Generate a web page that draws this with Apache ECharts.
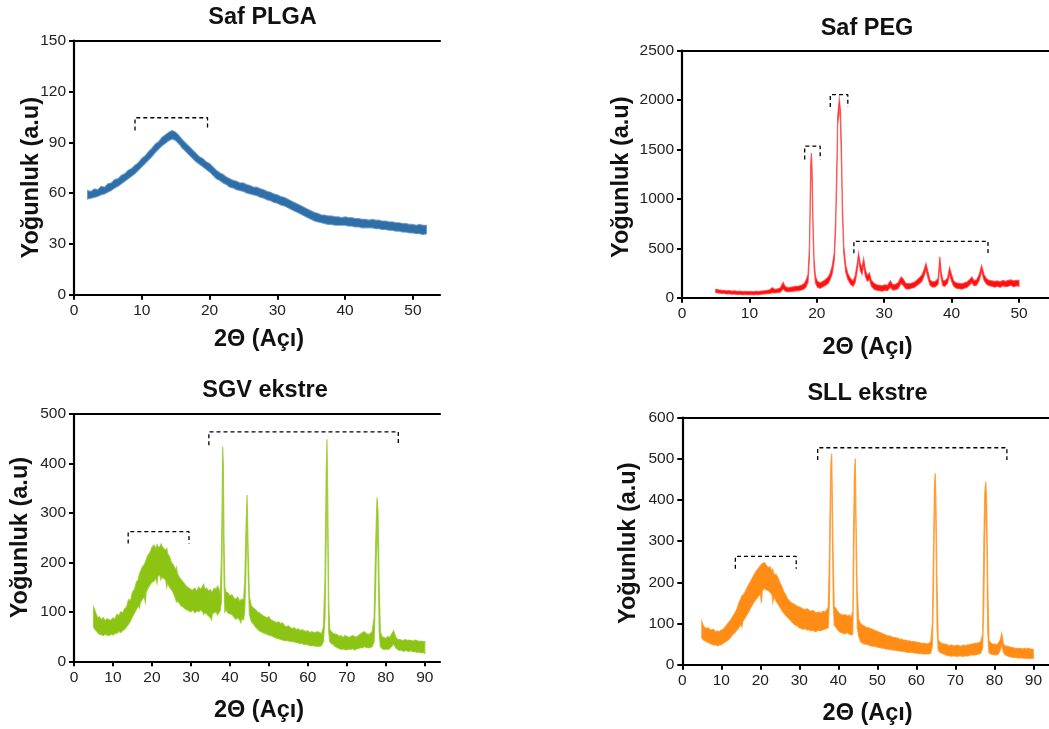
<!DOCTYPE html>
<html>
<head>
<meta charset="utf-8">
<script src="https://cdn.jsdelivr.net/npm/echarts@6/dist/echarts.min.js"></script>
<style>
  html, body { margin: 0; padding: 0; background: #fff; }
  #chart { width: 1049px; height: 729px; }
</style>
</head>
<body>
<div id="chart"></div>
<script>
// XRD patterns: each row is [2θ, lower edge, upper edge] of the noisy trace.
const plgaRows = [
  [2.0,56.5,61.5],[2.5,57,61],[3.0,57.5,62.5],[3.5,58,62],[4.0,59,64],[4.5,59.5,63.5],[5.0,60.5,65.5],[5.5,61.5,66],
  [6.0,63,68],[6.5,64,68.5],[7.0,65.5,70.5],[7.5,67,71.5],[8.0,68.5,73.5],[8.5,70,74.5],[9.0,71.5,76.5],[9.5,73.5,78],
  [10.0,75.5,80.5],[10.5,77.5,82],[11.0,79.5,84.5],[11.5,81.5,86.5],[12.0,84,89],[12.5,86,90.5],[13.0,88,93],[13.5,89.5,94.5],
  [14.0,91,96],[14.5,92,97],[15.0,91,96],[15.5,89,94],[16.0,86.5,91.5],[16.5,84.5,89.5],[17.0,82.5,87.5],[17.5,80.5,85.5],
  [18.0,78.5,83.5],[18.5,77,81.5],[19.0,75.5,80.5],[19.5,74,78.5],[20.0,72.5,77.5],[20.5,70.5,75.5],[21.0,68.5,73.5],[21.5,67.5,72],
  [22.0,66,71],[22.5,65,69.5],[23.0,63.5,68.5],[23.5,63,67.5],[24.0,62,67],[24.5,61.5,66],[25.0,61,66],[25.5,60,65],
  [26.0,59.5,64.5],[26.5,59,63.5],[27.0,58.5,63.5],[27.5,57.5,62.5],[28.0,57,62],[28.5,56,61],[29.0,55.5,60.5],[29.5,54.5,59.5],
  [30.0,54,59],[30.5,53,58],[31.0,52.5,57.5],[31.5,51.5,56.5],[32.0,50.5,55.5],[32.5,49.5,54.5],[33.0,48.5,53.5],[33.5,47.5,52.5],
  [34.0,46.5,51.5],[34.5,45.5,50.5],[35.0,44.5,49.5],[35.5,43.5,48.5],[36.0,43,48],[36.5,42.5,47],[37.0,42,47],[37.5,41.5,46.5],
  [38.0,41.5,46.5],[38.5,41,46],[39.0,41,46],[39.5,41,45.5],[40.0,41,46],[40.5,40.5,45.5],[41.0,40.5,45.5],[41.5,40,45],
  [42.0,40,45],[42.5,39.5,44.5],[43.0,39.5,44.5],[43.5,39.5,44],[44.0,39.5,44.5],[44.5,39,44],[45.0,39,44],[45.5,38.5,43.5],
  [46.0,38.5,43.5],[46.5,38,43],[47.0,38,43],[47.5,37.5,42.5],[48.0,37.5,42.5],[48.5,37,42],[49.0,37,42],[49.5,36.5,41.5],
  [50.0,36.5,41.5],[50.5,36,41],[51.0,36,41.5],[51.5,35.5,41],[52.0,36,41]
];

const pegRows = [
  [5.0,52,85],[5.4,48,80],[5.8,44,76],[6.2,46,74],[6.6,38,70],[7.0,40,72],[7.4,36,66],[7.8,38,70],[8.2,33,64],[8.6,36,66],
  [9.0,31,62],[9.4,34,64],[9.8,30,62],[10.2,33,64],[10.6,31,60],[11.0,34,66],[11.4,32,62],[11.8,36,68],[12.2,38,70],[12.6,40,74],
  [13.0,43,80],[13.4,52,100],[13.8,48,84],[14.2,52,90],[14.6,58,100],[15.0,88,155],[15.3,68,115],[15.7,60,100],[16.1,62,105],[16.5,66,110],
  [16.9,70,115],[17.3,72,118],[17.7,78,125],[18.1,88,140],[18.4,108,175],[18.7,158,235],[18.9,400,500],[19.1,1200,1350],[19.2,1400,1465],[19.3,1150,1300],
  [19.45,650,750],[19.6,300,380],[19.8,148,215],[20.1,106,165],[20.5,96,150],[20.9,112,165],[21.3,126,185],[21.7,146,210],[22.0,186,250],[22.3,246,325],
  [22.6,380,460],[22.8,700,800],[23.0,1300,1450],[23.1,1750,1830],[23.25,1850,1950],[23.35,1950,2010],[23.5,1800,1900],[23.65,1400,1550],[23.8,850,950],[24.0,450,520],
  [24.3,256,325],[24.6,186,245],[25.0,136,195],[25.4,116,170],[25.7,156,225],[26.0,276,345],[26.2,400,450],[26.45,276,345],[26.7,236,305],[26.95,326,395],
  [27.2,216,285],[27.5,166,225],[27.8,186,250],[28.1,116,175],[28.5,86,145],[28.9,76,130],[29.3,71,125],[29.7,66,120],[30.1,76,130],[30.5,71,125],
  [30.9,106,170],[31.3,76,130],[31.7,81,135],[32.1,96,155],[32.5,146,210],[32.8,126,190],[33.2,91,145],[33.6,86,140],[34.0,96,145],[34.4,101,155],
  [34.8,121,175],[35.2,141,200],[35.6,166,230],[35.9,216,280],[36.2,286,345],[36.5,196,260],[36.8,126,180],[37.2,106,160],[37.6,111,165],[38.0,136,195],
  [38.25,330,415],[38.45,196,265],[38.7,121,175],[39.0,116,170],[39.4,146,200],[39.7,236,305],[40.0,166,230],[40.3,116,170],[40.7,96,150],[41.1,91,145],
  [41.5,86,140],[41.9,96,150],[42.3,106,160],[42.7,131,185],[43.0,156,210],[43.3,121,175],[43.7,126,180],[44.1,176,235],[44.45,266,325],[44.8,176,235],
  [45.2,136,190],[45.6,121,175],[46.0,116,170],[46.4,106,165],[46.8,116,170],[47.2,106,160],[47.6,121,175],[48.0,111,165],[48.4,116,175],[48.8,126,180],
  [49.2,111,170],[49.6,121,175],[50.0,116,175]
];

const sgvRows = [
  [5.0,70,110],[5.3,65,105],[5.7,62,95],[6.1,58,88],[6.5,55,90],[7.0,54,84],[7.5,52,88],[8.0,55,82],[8.5,53,86],[9.0,52,84],
  [9.5,55,83],[10.0,53,88],[10.5,56,85],[11.0,57,95],[11.5,60,92],[12.0,58,100],[12.5,62,98],[13.0,65,106],[13.5,70,110],[14.0,75,125],
  [14.5,82,122],[15.0,90,140],[15.5,97,145],[16.0,105,160],[16.5,112,165],[16.8,108,178],[17.0,118,180],[17.5,125,190],[18.0,130,195],[18.3,120,200],[18.5,140,205],[19.0,148,215],
  [19.5,155,220],[20.0,160,230],[20.5,162,235],[21.0,168,228],[21.3,158,236],[21.5,172,232],[22.0,175,230],[22.3,165,237],[22.5,170,234],[23.0,168,228],[23.5,165,225],[23.8,150,228],[24.0,158,218],
  [24.5,150,212],[25.0,145,200],[25.5,138,195],[26.0,128,185],[26.3,120,190],[26.5,122,178],[27.0,118,170],[27.5,112,165],[28.0,110,160],[28.5,106,155],[29.0,104,150],
  [29.5,102,148],[30.0,100,145],[30.5,104,144],[31.0,98,148],[31.5,102,142],[32.0,100,150],[32.5,104,145],[33.0,100,152],[33.3,95,156],[33.5,98,146],[34.0,96,148],
  [34.5,92,142],[35.0,88,145],[35.3,84,140],[35.5,96,140],[36.0,98,148],[36.5,100,145],[36.8,94,152],[37.0,96,150],[37.5,102,135],[37.8,120,200],[38.0,220,320],[38.15,380,434],
  [38.3,300,400],[38.5,160,240],[38.7,100,150],[39.0,104,140],[39.5,98,138],[40.0,96,132],[40.5,95,135],[41.0,90,128],[41.5,85,125],[42.0,88,130],
  [42.5,84,122],[42.8,78,124],[43.0,86,126],[43.5,84,124],[43.8,100,160],[44.1,180,260],[44.4,300,336],[44.7,170,220],[45.0,95,130],[45.5,80,112],[46.0,76,108],
  [46.5,70,105],[47.0,66,100],[47.5,62,98],[48.0,60,95],[48.5,58,92],[49.0,56,90],[49.5,55,88],[50.0,53,90],[50.5,52,84],[51.0,50,82],
  [51.5,48,80],[52.0,47,78],[52.5,46,80],[53.0,44,76],[53.5,43,78],[54.0,42,72],[54.5,42,70],[55.0,41,72],[55.5,40,68],[56.0,40,66],
  [56.5,39,68],[57.0,38,64],[57.5,37,66],[58.0,36,62],[58.5,36,64],[59.0,34,62],[59.5,35,60],[60.0,33,62],[60.5,32,58],[61.0,31,60],
  [61.5,32,58],[62.0,30,58],[62.5,31,60],[63.0,30,58],[63.5,32,56],[64.0,40,70],[64.4,90,170],[64.7,250,380],[64.9,420,449],[65.1,250,330],
  [65.35,60,120],[65.6,40,65],[66.0,36,60],[66.5,34,56],[67.0,30,55],[67.5,28,54],[68.0,26,50],[68.5,24,52],[69.0,25,48],[69.5,24,52],
  [70.0,23,50],[70.5,25,48],[71.0,24,50],[71.5,26,52],[72.0,23,50],[72.5,25,49],[73.0,26,52],[73.5,28,55],[74.0,27,58],[74.5,30,60],
  [75.0,28,56],[75.5,27,54],[76.0,28,56],[76.5,30,60],[77.0,40,90],[77.4,150,240],[77.75,290,331],[78.0,220,300],[78.3,60,150],[78.6,30,60],
  [79.0,26,50],[79.5,24,48],[80.0,25,46],[80.5,24,50],[81.0,26,48],[81.5,30,55],[82.0,35,62],[82.5,28,50],[83.0,24,44],[83.5,22,44],
  [84.0,23,43],[84.5,20,42],[85.0,22,44],[85.5,21,42],[86.0,20,43],[86.5,22,42],[87.0,19,41],[87.5,20,43],[88.0,18,42],[88.5,19,40],
  [89.0,17,41],[89.5,18,40],[90.0,16,40]
];

const sllRows = [
  [5.0,65,105],[5.4,60,95],[5.8,58,90],[6.2,56,88],[6.6,54,90],[7.0,52,86],[7.5,50,84],[8.0,48,86],[8.5,48,80],[9.0,46,82],
  [9.5,48,80],[10.0,48,84],[10.5,52,86],[11.0,55,92],[11.5,58,98],[12.0,62,104],[12.5,68,110],[13.0,74,118],[13.5,78,126],[14.0,84,135],
  [14.5,90,150],[15.0,98,160],[15.3,92,168],[15.5,105,168],[16.0,112,175],[16.5,120,185],[17.0,128,194],[17.5,138,202],[18.0,146,212],[18.5,154,220],[19.0,160,228],
  [19.5,166,234],[20.0,172,240],[20.3,150,244],[20.5,180,245],[21.0,185,248],[21.5,182,242],[22.0,180,236],[22.5,176,238],[23.0,170,226],[23.2,152,232],[23.5,165,218],[24.0,155,220],
  [24.5,148,212],[25.0,140,200],[25.5,132,190],[26.0,125,178],[26.5,120,170],[27.0,115,160],[27.5,110,155],[28.0,105,150],[28.5,100,148],[29.0,96,145],
  [29.5,94,142],[30.0,90,140],[30.5,88,138],[31.0,86,135],[31.5,88,134],[32.0,84,136],[32.5,85,132],[33.0,82,130],[33.5,84,132],[34.0,80,128],
  [34.5,82,126],[35.0,84,128],[35.5,82,125],[36.0,85,130],[36.5,86,128],[37.0,88,132],[37.4,90,140],[37.7,150,260],[37.9,300,400],[38.1,440,490],
  [38.3,470,513],[38.5,300,380],[38.7,150,250],[38.95,95,140],[39.3,92,138],[39.8,85,130],[40.3,80,124],[40.8,78,122],[41.3,76,120],[41.8,75,122],
  [42.3,78,118],[42.8,74,120],[43.3,72,116],[43.7,74,130],[43.9,200,330],[44.15,380,475],[44.35,450,501],[44.6,250,320],[44.85,90,180],[45.2,70,110],
  [45.7,56,100],[46.2,52,96],[46.7,50,94],[47.2,50,90],[47.7,48,90],[48.2,46,88],[48.7,45,86],[49.2,45,84],[49.7,44,82],[50.2,42,80],
  [50.7,42,78],[51.2,40,76],[51.7,40,74],[52.2,38,72],[52.7,38,70],[53.2,37,70],[53.7,36,68],[54.2,36,66],[54.7,35,66],[55.2,34,64],
  [55.7,33,62],[56.2,33,62],[56.7,32,60],[57.2,31,60],[57.7,30,58],[58.2,30,58],[58.7,30,56],[59.2,29,56],[59.7,28,56],[60.2,28,54],
  [60.7,27,54],[61.2,27,52],[61.7,26,52],[62.2,26,52],[62.7,26,50],[63.2,26,52],[63.7,28,56],[64.1,45,100],[64.4,180,290],[64.65,380,440],
  [64.85,420,465],[65.05,300,380],[65.3,90,200],[65.6,35,60],[66.0,30,55],[66.5,28,52],[67.0,26,50],[67.5,24,50],[68.0,22,48],[68.5,22,46],
  [69.0,20,48],[69.5,22,46],[70.0,21,46],[70.5,20,48],[71.0,22,46],[71.5,21,45],[72.0,20,48],[72.5,22,46],[73.0,21,48],[73.5,22,48],
  [74.0,24,50],[74.5,23,50],[75.0,24,52],[75.5,25,52],[76.0,26,54],[76.5,28,56],[77.0,40,75],[77.3,150,300],[77.55,330,420],[77.8,400,445],
  [78.05,300,380],[78.3,80,200],[78.6,30,60],[79.0,26,54],[79.5,25,50],[80.0,24,50],[80.5,24,48],[81.0,26,52],[81.5,35,60],[81.9,50,76],
  [82.3,30,52],[82.7,24,46],[83.2,22,45],[83.7,20,44],[84.2,19,42],[84.7,18,42],[85.2,18,40],[85.7,17,40],[86.2,16,40],[86.7,17,40],
  [87.2,16,38],[87.7,16,40],[88.2,15,38],[88.7,16,40],[89.2,15,38],[89.7,16,38],[90.0,15,36]
];

// Dashed brackets over peak regions: [x start, x end, top, foot]
const plgaBrackets = [[9.0, 19.7, 104.5, 97]];
const pegBrackets = [[18.2, 20.5, 1535, 1400], [22.0, 24.6, 2055, 1930], [25.5, 45.4, 571, 449]];
const sgvBrackets = [[13.9, 29.5, 262, 238], [34.6, 83.2, 464, 437]];
const sllBrackets = [[13.6, 29.2, 263, 233], [34.7, 83.2, 527, 497]];

// Tick labels
const plgaXTicks = [0, 10, 20, 30, 40, 50];
const pegXTicks = [0, 10, 20, 30, 40, 50];
const extXTicks = [0, 10, 20, 30, 40, 50, 60, 70, 80, 90];

const panelTitles = ['Saf PLGA', 'Saf PEG', 'SGV ekstre', 'SLL ekstre'];
const xName = '2Θ (Açı)';
const yName = 'Yoğunluk (a.u)';

const FONT = 'Arial, "Liberation Sans", Helvetica, sans-serif';
const TITLE_SIZE = 23.5;
const NAME_SIZE = 23.5;
const TICK_SIZE = 15.5;

// yShift: padding on the rotated y-axis name to slide it down along the axis
const panels = [
  { rows: plgaRows, brackets: plgaBrackets, ticks: plgaXTicks, color: '#2f6ea6', edge: 'rgba(90,145,200,0.75)',
    grid: { left: 74, top: 40.7, right: 609, bottom: 434.3 }, xMax: 54, yMax: 150, yStep: 30,
    title: { left: 257.5, top: 1 }, yGap: 30, xGap: 33, yShift: 20 },
  { rows: pegRows, brackets: pegBrackets, ticks: pegXTicks, color: '#ff1010', edge: 'rgba(255,60,60,0.8)',
    grid: { left: 682, top: 50.7, right: 0, bottom: 431.3 }, xMax: 54.45, yMax: 2500, yStep: 500,
    title: { left: 862, top: 11.5 }, yGap: 48, xGap: 38, yShift: 6 },
  { rows: sgvRows, brackets: sgvBrackets, ticks: extXTicks, color: '#8cc414', edge: 'rgba(150,200,40,0.8)',
    grid: { left: 74, top: 414, right: 609, bottom: 67.7 }, xMax: 93.9, yMax: 500, yStep: 100,
    title: { left: 260, top: 373.5 }, yGap: 41.5, xGap: 37, yShift: 0 },
  { rows: sllRows, brackets: sllBrackets, ticks: extXTicks, color: '#ff8c14', edge: 'rgba(255,150,40,0.8)',
    grid: { left: 682.3, top: 417.7, right: 0, bottom: 64.3 }, xMax: 94, yMax: 600, yStep: 100,
    title: { left: 862.5, top: 376.5 }, yGap: 42, xGap: 37, yShift: 4 }
];

const grids = [], xAxes = [], yAxes = [], titles = [], series = [];

panels.forEach((p, i) => {
  grids.push(Object.assign({ containLabel: false }, p.grid));
  titles.push({
    text: panelTitles[i], left: p.title.left, top: p.title.top, textAlign: 'center',
    textStyle: { fontFamily: FONT, fontSize: TITLE_SIZE, fontWeight: 'bold', color: '#111' }
  });
  // bottom axis with ticks and name
  xAxes.push({
    type: 'value', gridIndex: i, min: 0, max: p.xMax, position: 'bottom',
    name: xName, nameLocation: 'middle', nameGap: p.xGap, nameMoveOverlap: false,
    nameTextStyle: { fontFamily: FONT, fontSize: NAME_SIZE, fontWeight: 'bold', color: '#111', padding: [0, 0, 0, 4] },
    axisLine: { show: true, onZero: false, lineStyle: { color: '#000', width: 2.2 } },
    axisTick: { show: true, length: 5, lineStyle: { color: '#000', width: 2 }, customValues: p.ticks },
    axisLabel: { fontFamily: FONT, fontSize: TICK_SIZE, color: '#222', margin: 8, customValues: p.ticks },
    splitLine: { show: false }
  });
  yAxes.push({
    type: 'value', gridIndex: i, min: 0, max: p.yMax, interval: p.yStep,
    name: yName, nameLocation: 'middle', nameGap: p.yGap, nameRotate: 90, nameMoveOverlap: false,
    nameTextStyle: { fontFamily: FONT, fontSize: NAME_SIZE, fontWeight: 'bold', color: '#111', padding: [0, p.yShift, 0, 0] },
    axisLine: { show: true, onZero: false, lineStyle: { color: '#000', width: 2.2 } },
    axisTick: { show: true, length: 5, lineStyle: { color: '#000', width: 2 } },
    axisLabel: { fontFamily: FONT, fontSize: TICK_SIZE, color: '#222', margin: 8, formatter: v => String(v) },
    splitLine: { show: false }
  });
});
// top frame line of each plot
panels.forEach((p, i) => {
  xAxes.push({
    type: 'value', gridIndex: i, min: 0, max: p.xMax, position: 'top',
    axisLine: { show: true, onZero: false, lineStyle: { color: '#000', width: 2.2 } },
    axisTick: { show: false }, axisLabel: { show: false }, splitLine: { show: false }
  });
});

panels.forEach((p, i) => {
  const rows = p.rows;
  series.push({
    type: 'custom', xAxisIndex: i, yAxisIndex: i, data: rows,
    encode: { x: 0, y: [1, 2] }, silent: true, animation: false, clip: true,
    renderItem: function (params, api) {
      if (params.dataIndex !== 0) return null;
      const upper = rows.map(r => api.coord([r[0], r[2]]));
      const lower = rows.slice().reverse().map(r => api.coord([r[0], r[1]]));
      return {
        type: 'polygon',
        shape: { points: upper.concat(lower) },
        style: { fill: p.color, stroke: p.edge, lineWidth: 1.2, lineJoin: 'miter' }
      };
    }
  });
  p.brackets.forEach(b => {
    series.push({
      type: 'line', xAxisIndex: i, yAxisIndex: i, symbol: 'none', silent: true, animation: false,
      data: [[b[0], b[3]], [b[0], b[2]], [b[1], b[2]], [b[1], b[3]]],
      lineStyle: { color: '#000', width: 1.3, type: [4, 3] }
    });
  });
});

const chart = echarts.init(document.getElementById('chart'), null, { renderer: 'canvas' });
chart.setOption({
  backgroundColor: '#ffffff',
  animation: false,
  title: titles,
  grid: grids,
  xAxis: xAxes,
  yAxis: yAxes,
  series: series
});
</script>
</body>
</html>
